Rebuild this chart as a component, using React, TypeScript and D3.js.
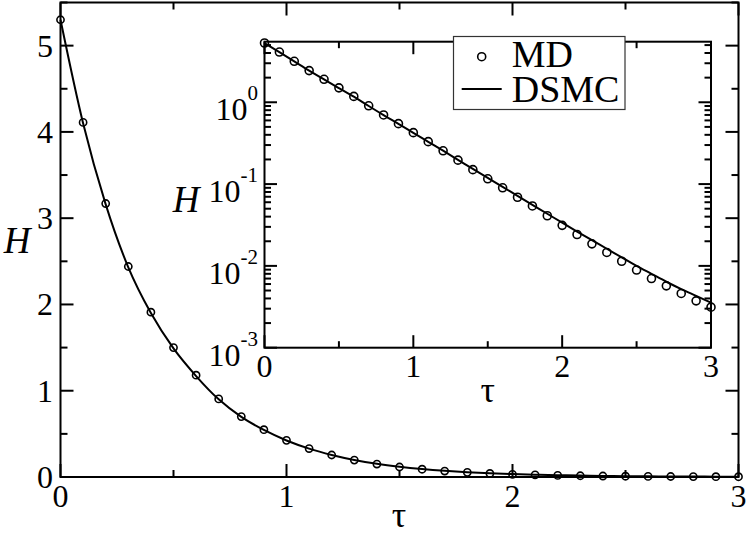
// H(tau) decay: MD vs DSMC with log-scale inset (rev 9, fonts set via d3 after mount)
import React, { useEffect, useRef } from 'react';
import * as d3 from 'd3';

// ---- data ----
const tauValues = [0, 0.1, 0.2, 0.3, 0.4, 0.5, 0.6, 0.7, 0.8, 0.9, 1.0, 1.1, 1.2, 1.3, 1.4, 1.5, 1.6, 1.7, 1.8, 1.9, 2.0, 2.1, 2.2, 2.3, 2.4, 2.5, 2.6, 2.7, 2.8, 2.9, 3.0];
const mdValues = [5.3, 4.11, 3.17, 2.44, 1.91, 1.5, 1.18, 0.905, 0.7, 0.548, 0.425, 0.33, 0.255, 0.196, 0.15, 0.116, 0.09, 0.069, 0.054, 0.041, 0.0313, 0.0242, 0.0186, 0.0146, 0.0114, 0.0089, 0.007, 0.0057, 0.0046, 0.00374, 0.00313];
const dsmcValues = [5.3, 4.1, 3.16, 2.43, 1.9, 1.49, 1.17, 0.9, 0.697, 0.545, 0.423, 0.329, 0.256, 0.198, 0.153, 0.119, 0.0925, 0.0718, 0.0558, 0.0434, 0.0337, 0.0263, 0.0206, 0.0162, 0.0127, 0.01, 0.008, 0.0064, 0.0052, 0.0043, 0.00355];
const mainXTickLabels = ['0', '1', '2', '3'];
const mainYTickLabels = ['0', '1', '2', '3', '4', '5'];
const insetExponents = ['0', '-1', '-2', '-3'];
const legendLabels = ['MD', 'DSMC'];

const SERIF = "'Times New Roman', 'Liberation Serif', Times, serif";

function T({ x, y, size, italic, anchor, children }: any) {
  const style: any = { fontFamily: SERIF, fontSize: size };
  if (italic) style.fontStyle = 'italic';
  return (
    <text x={x} y={y} textAnchor={anchor || 'start'} style={style}>
      {children}
    </text>
  );
}

type Tick = { v: number; major: boolean };

function Frame({ x, y, xTicks, yTicks, majLen, minLen }: any) {
  const [x0, x1] = x.range();
  const [y0, y1] = y.range(); // y0 bottom, y1 top
  const segs: any[] = [];
  xTicks.forEach((t: Tick, i: number) => {
    const px = x(t.v);
    const L = t.major ? majLen : minLen;
    segs.push(<line key={'xb' + i} x1={px} x2={px} y1={y0} y2={y0 - L} />);
    segs.push(<line key={'xt' + i} x1={px} x2={px} y1={y1} y2={y1 + L} />);
  });
  yTicks.forEach((t: Tick, i: number) => {
    const py = y(t.v);
    const L = t.major ? majLen : minLen;
    segs.push(<line key={'yl' + i} x1={x0} x2={x0 + L} y1={py} y2={py} />);
    segs.push(<line key={'yr' + i} x1={x1} x2={x1 - L} y1={py} y2={py} />);
  });
  return (
    <g stroke="#000" strokeWidth={2} fill="none">
      {segs}
      <rect x={x0} y={y1} width={x1 - x0} height={y0 - y1} />
    </g>
  );
}

export default function App() {
  const ref = useRef<SVGSVGElement | null>(null);

  useEffect(() => {
    if (!ref.current) return;
    d3.select(ref.current)
      .selectAll('text')
      .attr('font-family', 'Times New Roman')
      .style('font-family', SERIF);
  }, []);

  // main axes
  const x = d3.scaleLinear().domain([0, 3]).range([60.5, 738.5]);
  const y = d3.scaleLinear().domain([0, 5.5]).range([477, 2.5]);
  // inset axes
  const xi = d3.scaleLinear().domain([0, 3]).range([264.5, 711]);
  const yi = d3.scaleLog().domain([1e-3, 5.5]).range([347.7, 41.7]);

  const mainXTicks: Tick[] = d3.range(0, 3.01, 0.5).map((v) => ({ v, major: Math.abs(v - Math.round(v)) < 1e-9 }));
  const mainYTicks: Tick[] = d3.range(0, 5.51, 0.5).map((v) => ({ v, major: Math.abs(v - Math.round(v)) < 1e-9 }));
  const insetXTicks = mainXTicks;
  const insetYTicks: Tick[] = yi.ticks().map((v) => {
    const l = Math.log10(v);
    return { v, major: Math.abs(l - Math.round(l)) < 1e-9 };
  });

  const mainLine = d3.line<number>().x((_, i) => x(tauValues[i])).y((d) => y(d)).curve(d3.curveMonotoneX);
  const insetLine = d3.line<number>().x((_, i) => xi(tauValues[i])).y((d) => yi(d)).curve(d3.curveMonotoneX);

  return (
    <svg ref={ref} width={747} height={536} style={{ position: 'absolute', left: 0, top: 0 }}>
      <rect x={0} y={0} width={747} height={536} fill="#fff" />
      {/* main plot */}
      <path d={mainLine(dsmcValues) || ''} fill="none" stroke="#000" strokeWidth={2} />
      {mdValues.map((d, i) => (
        <circle key={'m' + i} cx={x(tauValues[i])} cy={y(d)} r={3.6} fill="none" stroke="#000" strokeWidth={1.6} />
      ))}
      <Frame x={x} y={y} xTicks={mainXTicks} yTicks={mainYTicks} majLen={13} minLen={7} />
      {mainXTickLabels.map((t, i) => (
        <T key={'mxl' + i} x={x(+t)} y={507} size={32} anchor="middle">{t}</T>
      ))}
      {mainYTickLabels.map((t, i) => (
        <T key={'myl' + i} x={53} y={y(+t) + 11} size={32} anchor="end">{t}</T>
      ))}
      <T x={399} y={527} size={36} anchor="middle">τ</T>
      <T x={17} y={253} size={37} italic anchor="middle">H</T>

      {/* inset */}
      <rect x={264.5} y={41.7} width={711 - 264.5} height={347.7 - 41.7} fill="#fff" />
      <path d={insetLine(dsmcValues) || ''} fill="none" stroke="#000" strokeWidth={2} />
      {mdValues.map((d, i) => (
        <circle key={'i' + i} cx={xi(tauValues[i])} cy={yi(d)} r={4} fill="none" stroke="#000" strokeWidth={1.6} />
      ))}
      <Frame x={xi} y={yi} xTicks={insetXTicks} yTicks={insetYTicks} majLen={12.5} minLen={6.5} />
      {mainXTickLabels.map((t, i) => (
        <T key={'ixl' + i} x={xi(+t)} y={377} size={32} anchor="middle">{t}</T>
      ))}
      {insetExponents.map((e, i) => (
        <T key={'iyl' + i} x={258} y={yi(Math.pow(10, +e)) + 18} size={32} anchor="end">
          10<tspan fontSize={21} dy={-20}>{e}</tspan>
        </T>
      ))}
      <T x={487.7} y={402} size={36} anchor="middle">τ</T>
      <T x={186} y={212} size={37} italic anchor="middle">H</T>

      {/* legend */}
      <rect x={453.5} y={36.5} width={171.5} height={73} fill="#fff" stroke="#333" strokeWidth={1.2} />
      <circle cx={481.7} cy={56.7} r={4} fill="none" stroke="#000" strokeWidth={1.6} />
      <T x={511.7} y={67} size={38}>{legendLabels[0]}</T>
      <line x1={461.7} x2={501.7} y1={89} y2={89} stroke="#000" strokeWidth={2} />
      <T x={511.7} y={102} size={38}>{legendLabels[1]}</T>
    </svg>
  );
}
